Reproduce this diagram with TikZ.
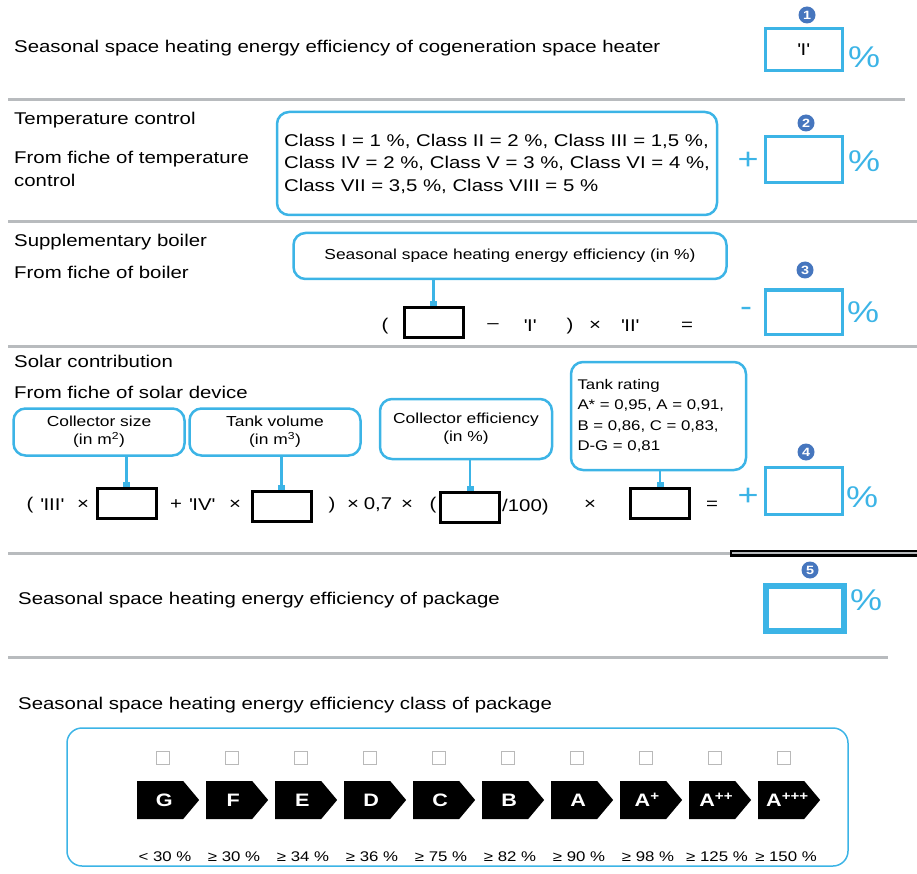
\documentclass[tikz,border=0pt]{standalone}
\usepackage{fontspec}
\setmainfont{Liberation Sans}[FakeStretch=1.2]
\usetikzlibrary{arrows.meta,shapes.symbols}
\definecolor{boxblue}{RGB}{60,180,230}
\definecolor{numblue}{RGB}{70,118,190}
\definecolor{rulegray}{RGB}{184,187,190}
\definecolor{tickgray}{RGB}{185,185,185}
\newcommand{\q}[1]{\textquotesingle#1\textquotesingle}

\begin{document}
\begin{tikzpicture}[x=1pt, y=-1pt,
  txt/.style={anchor=west, inner sep=0, align=left, font=\fontsize{17}{23}\selectfont},
  eq/.style={inner sep=0, font=\fontsize{17}{20}\selectfont},
  res/.style={draw=boxblue, line width=3pt, minimum width=77pt, minimum height=44pt,
              inner sep=0, font=\fontsize{17}{20}\selectfont},
  num/.style={circle, fill=numblue, text=white, inner sep=0, minimum size=17pt,
              font=\bfseries\fontsize{12}{12}\selectfont},
  pct/.style={inner sep=0, text=boxblue, font=\fontsize{30}{30}\selectfont},
  call/.style={draw=boxblue, line width=2.5pt, rounded corners=12pt, inner sep=0,
               align=center, font=\fontsize{14.5}{18}\selectfont},
  inp/.style={draw, line width=3pt, minimum width=59pt, minimum height=30pt, inner sep=0},
  lnk/.style={boxblue, line width=2.5pt, -{Square[length=5pt,width=7pt]}},
  sep/.style={rulegray, line width=3pt},
  tick/.style={draw=tickgray, line width=1.3pt, minimum size=13pt, inner sep=0},
  cls/.style={signal, signal to=east, signal pointer angle=100, fill=black, text=white,
              text width=46pt, align=center, minimum height=38pt, inner xsep=0,
              inner ysep=0, anchor=west, font=\bfseries\fontsize{18}{18}\selectfont},
  lim/.style={inner sep=0, font=\fontsize{14}{14}\selectfont}
]
  \useasboundingbox (0,0) rectangle (917,874);

  % cogeneration heater
  \node[txt] (heat) at (14,48) {Seasonal space heating energy efficiency of cogeneration space heater};
  \node[res, minimum height=42pt] (r1) at (803.5,50) {\q{I}};
  \node[num] (n1) at (807,15) {1};
  \node[pct] (p1) at (864,57) {\%};
  \draw[sep] (8,100) -- (905,100);

  % temperature control
  \node[txt] (tc) at (14,120) {Temperature control};
  \node[txt] (tcf) at (14,168.5) {From fiche of temperature\\control};
  \node[call, minimum width=440pt, minimum height=103pt, align=left,
        font=\fontsize{17}{22.5}\selectfont] (tcc) at (497,163.5)
    {Class I = 1 \%, Class II = 2 \%, Class III = 1,5 \%,\\
     Class IV = 2 \%, Class V = 3 \%, Class VI = 4 \%,\\
     Class VII = 3,5 \%, Class VIII = 5 \%};
  \node[pct] (s2) at (748,161) {+};
  \node[res, minimum height=46pt] (r2) at (803.5,160) {};
  \node[num] (n2) at (806,123) {2};
  \node[pct] (p2) at (864,161) {\%};
  \draw[sep] (8,222) -- (917,222);

  % supplementary boiler
  \node[txt] (sb) at (14,242) {Supplementary boiler};
  \node[txt] (sbf) at (14,272) {From fiche of boiler};
  \node[call, minimum width=433pt, minimum height=46pt] (boil) at (510,256)
    {Seasonal space heating energy efficiency (in \%)};
  \node[inp] (bin) at (433.5,322.5) {};
  \draw[lnk] (bin.north |- boil.south) -- (bin.north);
  \foreach \t/\x [count=\k] in {{(}/385, {\textendash}/493, {\q{I}}/530, {)}/570,
                                {×}/595, {\q{II}}/630, {=}/687}
    \node[eq] (o\k) at (\x,326) {\t};
  \node[pct] (s3) at (746,312) {-};
  \node[res] (r3) at (803.5,312) {};
  \node[num] (n3) at (805,270) {3};
  \node[pct] (p3) at (863,312) {\%};
  \draw[sep] (8,346) -- (917,346);

  % solar contribution
  \node[txt] (sc) at (14,361) {Solar contribution};
  \node[txt] (scf) at (14,392) {From fiche of solar device};
  \node[call, minimum width=171pt, minimum height=47pt] (coll) at (99,432)
    {Collector size\\(in m\textsuperscript{2})};
  \node[call, minimum width=171pt, minimum height=47pt] (tank) at (275,432)
    {Tank volume\\(in m\textsuperscript{3})};
  \node[call, minimum width=172pt, minimum height=60pt] (eff) at (466,429)
    {Collector efficiency\\(in \%)};
  \node[call, minimum width=175pt, minimum height=108pt, align=left, text width=162pt,
        font=\fontsize{14}{20.5}\selectfont] (rate) at (658.5,416)
    {Tank rating\\A* = 0,95, A = 0,91,\\B = 0,86, C = 0,83,\\D-G = 0,81};
  \node[inp] (in1) at (126.5,503.5) {};
  \node[inp] (in2) at (281.5,506) {};
  \node[inp] (in3) at (470,507) {};
  \node[inp] (in4) at (660,503) {};
  \draw[lnk] (in1.north |- coll.south) -- (in1.north);
  \draw[lnk] (in2.north |- tank.south) -- (in2.north);
  \draw[lnk] (in3.north |- eff.south) -- (in3.north);
  \draw[lnk] (in4.north |- rate.south) -- (in4.north);
  \foreach \t/\x [count=\k] in {{(}/30, {\q{III}}/52, {×}/83, {+}/176, {\q{IV}}/202,
                                {×}/235, {)}/332, {×}/353, {0,7}/378, {×}/407,
                                {(}/433, {×}/590, {=}/712}
    \node[eq] (e\k) at (\x,505) {\t};
  \node[eq, anchor=west] (hund) at ([xshift=1pt]in3.east) {/100)};
  \node[pct] (s4) at (748,497) {+};
  \node[res, minimum height=47pt] (r4) at (803.5,490.5) {};
  \node[num] (n4) at (806,452) {4};
  \node[pct] (p4) at (862,497) {\%};
  \draw[sep] (8,553) -- (730,553);
  \draw[line width=7pt] (730,553) -- (917,553);
  \draw[rulegray, line width=2.5pt] (732,553) -- (917,553);

  % package
  \node[txt] (pkg) at (18,600) {Seasonal space heating energy efficiency of package};
  \node[res, line width=6pt, minimum width=78pt, minimum height=45pt] (r5) at (804.5,608.5) {};
  \node[num] (n5) at (810,570) {5};
  \node[pct] (p5) at (866,600) {\%};
  \draw[sep] (8,657) -- (888,657);

  % energy classes
  \node[txt] (clshead) at (18,705) {Seasonal space heating energy efficiency class of package};
  \node[draw=boxblue, line width=1.5pt, rounded corners=15pt, minimum width=781pt,
        minimum height=138pt, inner sep=0] (frame) at (457.5,797) {};
  \foreach \c/\v [count=\i from 0] in {G/< 30 \%, F/≥ 30 \%, E/≥ 34 \%, D/≥ 36 \%,
      C/≥ 75 \%, B/≥ 82 \%, A/≥ 90 \%, A\textsuperscript{+}/≥ 98 \%,
      A\textsuperscript{++}/≥ 125 \%, A\textsuperscript{+++}/≥ 150 \%}
  {
    \node[cls] (a\i) at (137+69*\i,800) {\hspace*{8pt}\c};
    \node[tick] (b\i) at (163+69*\i,758) {};
    \node[lim] (l\i) at (165+69*\i,857) {\v};
  }
\end{tikzpicture}
\end{document}
